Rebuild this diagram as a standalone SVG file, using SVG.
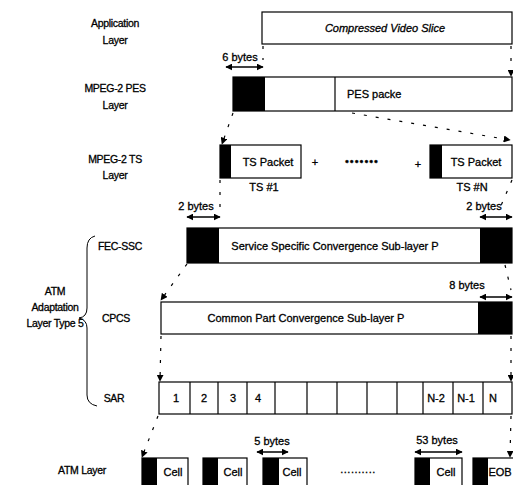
<svg xmlns="http://www.w3.org/2000/svg" width="513" height="485" viewBox="0 0 513 485">
<defs>
<marker id="ah" viewBox="0 0 10 10" refX="9" refY="5" markerWidth="7" markerHeight="7" markerUnits="userSpaceOnUse" orient="auto-start-reverse"><path d="M0,0 L10,5 L0,10 z" fill="#000"/></marker>
<style>
text{font-family:"Liberation Sans",Arial,sans-serif;font-size:11px;fill:#000;stroke:#000;stroke-width:0.3;text-anchor:middle}
.lbl{font-size:10.5px;letter-spacing:-0.3px}
.box{fill:#fff;stroke:#000;stroke-width:1.2}
.blk{fill:#000}
.dash{fill:none;stroke:#000;stroke-width:1.2;stroke-dasharray:3 9;marker-end:url(#ah)}
.dbl{fill:none;stroke:#000;stroke-width:1.5;marker-start:url(#ah);marker-end:url(#ah)}
.br{fill:none;stroke:#000;stroke-width:1}
</style>
</defs>
<rect width="513" height="485" fill="#fff"/>

<g id="labels">
<text class="lbl" x="115" y="27">Application</text>
<text class="lbl" x="115" y="44">Layer</text>
<text class="lbl" x="115" y="92">MPEG-2 PES</text>
<text class="lbl" x="115" y="109">Layer</text>
<text class="lbl" x="115" y="163">MPEG-2 TS</text>
<text class="lbl" x="115" y="179">Layer</text>
<text class="lbl" x="55" y="295">ATM</text>
<text class="lbl" x="55" y="311">Adaptation</text>
<text class="lbl" x="55" y="327">Layer Type 5</text>
<text class="lbl" x="120" y="250">FEC-SSC</text>
<text class="lbl" x="116" y="322">CPCS</text>
<text class="lbl" x="114" y="402">SAR</text>
<text class="lbl" x="82" y="474">ATM Layer</text>
<path class="br" d="M95,236 Q87,238 87,248 L87,308 Q87,317 79,318 Q87,320 87,328 L87,395 Q87,404 97,406"/>
</g>

<g id="app">
<rect class="box" x="262" y="12" width="250" height="32"/>
<text x="385" y="32" font-style="italic">Compressed Video Slice</text>
</g>

<g id="pes">
<rect class="box" x="233" y="77" width="279" height="34"/>
<rect class="blk" x="233" y="77" width="32" height="34"/>
<line x1="335" y1="77" x2="335" y2="111" stroke="#000" stroke-width="1.2"/>
<text x="347" y="98" style="text-anchor:start">PES packe</text>
<text x="240" y="61">6 bytes</text>
</g>

<g id="ts1">
<rect class="box" x="220" y="145" width="81" height="33"/>
<rect class="blk" x="220" y="145" width="11" height="33"/>
<text x="268" y="166">TS Packet</text>
<text x="264" y="191">TS #1</text>
</g>
<g id="tsdots">
<text x="315" y="166" font-size="13">+</text>
<text x="362" y="165" letter-spacing="1">•••••••</text>
<text x="418" y="168" font-size="13">+</text>
</g>
<g id="tsN">
<rect class="box" x="430" y="145" width="82" height="33"/>
<rect class="blk" x="430" y="145" width="12" height="33"/>
<text x="476" y="166">TS Packet</text>
<text x="472" y="191">TS #N</text>
</g>

<g id="fec">
<rect class="box" x="187" y="228" width="325" height="35"/>
<rect class="blk" x="187" y="228" width="32" height="35"/>
<rect class="blk" x="480" y="228" width="32" height="35"/>
<text x="335" y="250">Service Specific Convergence Sub-layer P</text>
<text x="196" y="210">2 bytes</text>
<text x="484" y="210">2 bytes</text>
</g>

<g id="cpcs">
<rect class="box" x="161" y="302" width="351" height="32"/>
<rect class="blk" x="478" y="302" width="34" height="32"/>
<text x="306" y="322">Common Part Convergence Sub-layer P</text>
<text x="467" y="289">8 bytes</text>
</g>

<g id="sar">
<rect class="box" x="159" y="382" width="353" height="32"/>
<g stroke="#000" stroke-width="1.2">
<line x1="190" y1="382" x2="190" y2="414"/>
<line x1="218" y1="382" x2="218" y2="414"/>
<line x1="247" y1="382" x2="247" y2="414"/>
<line x1="275" y1="382" x2="275" y2="414"/>
<line x1="307" y1="382" x2="307" y2="414"/>
<line x1="337" y1="382" x2="337" y2="414"/>
<line x1="367" y1="382" x2="367" y2="414"/>
<line x1="397" y1="382" x2="397" y2="414"/>
<line x1="423" y1="382" x2="423" y2="414"/>
<line x1="453" y1="382" x2="453" y2="414"/>
<line x1="483" y1="382" x2="483" y2="414"/>
</g>
<text x="176" y="402">1</text>
<text x="204" y="402">2</text>
<text x="233" y="402">3</text>
<text x="255" y="402" style="text-anchor:start">4</text>
<text x="436" y="402">N-2</text>
<text x="466" y="402">N-1</text>
<text x="493" y="402">N</text>
</g>

<g id="atm">
<rect class="box" x="142" y="458" width="46" height="34"/>
<rect class="blk" x="142" y="458" width="15" height="34"/>
<text x="173" y="476">Cell</text>
<rect class="box" x="203" y="458" width="44" height="34"/>
<rect class="blk" x="203" y="458" width="15" height="34"/>
<text x="233" y="476">Cell</text>
<rect class="box" x="263" y="458" width="44" height="34"/>
<rect class="blk" x="263" y="458" width="16" height="34"/>
<text x="292" y="476">Cell</text>
<text x="358" y="473" letter-spacing="0.5">..........</text>
<rect class="box" x="415" y="458" width="47" height="34"/>
<rect class="blk" x="415" y="458" width="15" height="34"/>
<text x="446" y="476">Cell</text>
<rect class="box" x="473" y="458" width="42" height="34"/>
<rect class="blk" x="473" y="458" width="15" height="34"/>
<text x="500" y="476">EOB</text>
<text x="272" y="445">5 bytes</text>
<text x="437" y="444">53 bytes</text>
</g>

<g id="connectors">
<line class="dash" x1="263" y1="46" x2="263" y2="60" style="marker-end:none"/>
<line class="dash" x1="511" y1="46" x2="511" y2="76"/>
<line class="dash" x1="233" y1="113" x2="222" y2="144"/>
<line class="dash" x1="352" y1="113" x2="510" y2="140"/>
<line class="dash" x1="220" y1="180" x2="220" y2="210" style="marker-end:none"/>
<line class="dash" x1="512" y1="180" x2="500" y2="208" style="marker-end:none"/>
<line class="dash" x1="187" y1="264" x2="161" y2="300"/>
<line class="dash" x1="505" y1="265" x2="511" y2="290" style="marker-end:none"/>
<line class="dash" x1="161" y1="336" x2="160" y2="381"/>
<line class="dash" x1="511" y1="336" x2="511" y2="381"/>
<line class="dash" x1="158" y1="416" x2="142" y2="457"/>
<line class="dash" x1="511" y1="416" x2="510" y2="457"/>
<line class="dbl" x1="226" y1="67" x2="263" y2="67"/>
<line class="dbl" x1="187" y1="217" x2="220" y2="217"/>
<line class="dbl" x1="480" y1="217" x2="512" y2="217"/>
<line class="dbl" x1="480" y1="297" x2="512" y2="297"/>
<line class="dbl" x1="257" y1="452" x2="288" y2="452"/>
<line class="dbl" x1="415" y1="452" x2="462" y2="452"/>
</g>
</svg>
